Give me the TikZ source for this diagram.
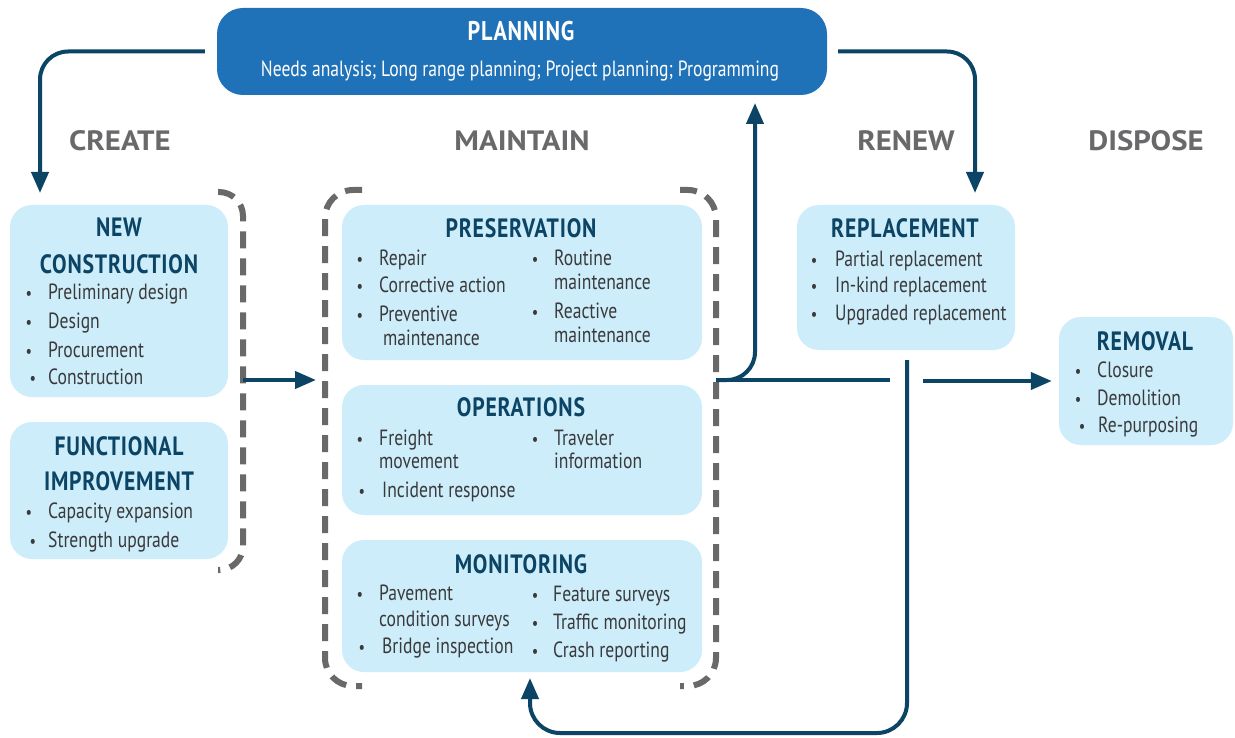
\documentclass[tikz,border=0pt]{standalone}
\usepackage{fontspec}
\usetikzlibrary{arrows.meta}
\setmainfont{PT Sans}
\newfontfamily\bodyf{PT Sans}[FakeStretch=0.8]
\newfontfamily\titlef{PT Sans}[FakeStretch=0.82,LetterSpace=3]
\newfontfamily\labelf{PT Sans}[FakeStretch=1.1]
\definecolor{planblue}{RGB}{31,113,184}
\definecolor{lightbox}{RGB}{204,237,249}
\definecolor{navy}{RGB}{12,68,101}
\definecolor{brkgray}{RGB}{105,105,105}
\definecolor{lblgray}{RGB}{105,105,107}
\definecolor{bodygray}{RGB}{58,58,60}
\newcommand\itm[5]{%
  \node[bul] (#1b) at (#2,#4) {•};
  \node[itm] (#1) at (#3,#4) {#5};}
\begin{document}
\begin{tikzpicture}[x=1pt,y=-1pt,
  box/.style={fill=lightbox,draw=none,rounded corners=22pt,inner sep=0pt,minimum width=#1},
  ttl/.style={anchor=base,inner sep=0pt,text=navy,font=\titlef\bfseries\fontsize{26.5}{26.5}\selectfont},
  lbl/.style={anchor=base,inner sep=0pt,text=lblgray,font=\labelf\bfseries\fontsize{28}{28}\selectfont},
  bul/.style={anchor=base,inner sep=0pt,text=bodygray,font=\bodyf\fontsize{18}{18}\selectfont},
  itm/.style={anchor=base west,inner sep=0pt,text=bodygray,font=\bodyf\fontsize{22}{22}\selectfont},
  conn/.style={draw=navy,line width=4pt,rounded corners=28pt,-{Triangle[length=21pt,width=17pt]}},
  plainline/.style={draw=navy,line width=4pt},
  brk/.style={draw=brkgray,line width=6pt,dash pattern=on 17pt off 10pt,rounded corners=28pt}]
\useasboundingbox (0,0) rectangle (1235,738);
\fill[white] (0,0) rectangle (1235,738);

% ---------- Planning ----------
\node[box=610pt,minimum height=87pt,fill=planblue,rounded corners=26pt] (plan) at (522,51.5) {};
\node[anchor=base,inner sep=0pt,text=white,font=\titlef\bfseries\fontsize{27}{27}\selectfont] (plant) at (521,41) {PLANNING};
\node[anchor=base,inner sep=0pt,text=white,font=\bodyf\fontsize{22}{22}\selectfont] (plans) at (520,77) {Needs analysis; Long range planning; Project planning; Programming};

% ---------- Phase labels ----------
\node[lbl] (lcreate) at (120,151) {CREATE};
\node[lbl] (lmaint) at (522,151) {MAINTAIN};
\node[lbl] (lrenew) at (906,151) {RENEW};
\node[lbl] (ldisp) at (1146,151) {DISPOSE};

% ---------- Boxes ----------
\node[box=218pt,minimum height=192pt] (newc) at (119,301) {};
\node[box=218pt,minimum height=137pt] (func) at (119,490.5) {};
\node[box=360pt,minimum height=155pt] (pres) at (522,282.5) {};
\node[box=360pt,minimum height=130pt] (oper) at (522,450) {};
\node[box=360pt,minimum height=132pt] (moni) at (522,606) {};
\node[box=218pt,minimum height=145pt] (repl) at (906,277.5) {};
\node[box=174pt,minimum height=128pt] (remo) at (1146,381) {};

% New construction
\node[ttl] (newt1) at (119,237) {NEW};
\node[ttl] (newt2) at (119,273) {CONSTRUCTION};
\itm{n1}{29}{48}{300}{Preliminary design}
\itm{n2}{29}{48}{328}{Design}
\itm{n3}{29}{48}{357}{Procurement}
\itm{n4}{33}{48}{384}{Construction}

% Functional improvement
\node[ttl] (funt1) at (119,455) {FUNCTIONAL};
\node[ttl] (funt2) at (119,490) {IMPROVEMENT};
\itm{f1}{29}{48}{518}{Capacity expansion}
\itm{f2}{33}{48}{547}{Strength upgrade}

% Preservation
\node[ttl] (prest) at (521,238) {PRESERVATION};
\itm{p1}{360}{379}{266}{Repair}
\itm{p2}{360}{379}{293}{Corrective action}
\itm{p3}{360}{379}{322}{Preventive}
\node[itm] (p3b2) at (383,345) {maintenance};
\itm{p4}{535}{554}{266}{Routine}
\node[itm] (p4b2) at (554,290) {maintenance};
\itm{p5}{535}{554}{318}{Reactive}
\node[itm] (p5b2) at (554,342) {maintenance};

% Operations
\node[ttl] (opert) at (521,416) {OPERATIONS};
\itm{o1}{360}{379}{445}{Freight}
\node[itm] (o1b2) at (379,468) {movement};
\itm{o2}{362}{382}{497}{Incident response}
\itm{o3}{535}{554}{445}{Traveler}
\node[itm] (o3b2) at (554,468) {information};

% Monitoring
\node[ttl] (monit) at (521,573) {MONITORING};
\itm{m1}{360}{379}{600}{Pavement}
\node[itm] (m1b2) at (379,626) {condition surveys};
\itm{m2}{362}{382}{653}{Bridge inspection}
\itm{m3}{535}{553}{601}{Feature surveys}
\itm{m4}{535}{553}{629}{Traffic monitoring}
\itm{m5}{535}{553}{657}{Crash reporting}

% Replacement
\node[ttl] (replt) at (905,238) {REPLACEMENT};
\itm{r1}{814}{835}{267}{Partial replacement}
\itm{r2}{814}{835}{293}{In-kind replacement}
\itm{r3}{814}{835}{320}{Upgraded replacement}

% Removal
\node[ttl] (remot) at (1145,350) {REMOVAL};
\itm{d1}{1078}{1097}{377}{Closure}
\itm{d2}{1078}{1097}{405}{Demolition}
\itm{d3}{1082}{1098}{432}{Re-purposing}

% ---------- Dashed brackets ----------
\draw[brk,rounded corners=24pt] (218,192) -- (243,192) -- (243,570) -- (218,570);
\draw[brk] (362,190) -- (325,190) -- (325,686) -- (362,686);
\draw[brk] (680,190) -- (716,190) -- (716,686) -- (680,686);

% ---------- Connectors ----------
\coordinate (a1) at (40,193);
\draw[conn] ([xshift=-12pt]plan.west) -| (a1);
\coordinate (a2) at (975,193);
\draw[conn] ([xshift=11pt]plan.east) -| (a2);
\coordinate (mj) at (716,380);
\coordinate (a3) at (755,103);
\draw[conn] (mj) -| (a3);
\coordinate (h1) at (890,380);
\draw[plainline] (mj) -- (h1);
\coordinate (cj) at (243,380);
\coordinate (a6) at (316,380);
\draw[conn] (cj) -- (a6);
\coordinate (v1) at (907,360);
\coordinate (lb) at (530,733);
\coordinate (a4) at (530,678);
\draw[conn,rounded corners=30pt] (v1) |- (lb) -- (a4);
\coordinate (c1) at (923,381);
\draw[conn] (c1) -- ([xshift=-7pt]remo.west);
\end{tikzpicture}
\end{document}
